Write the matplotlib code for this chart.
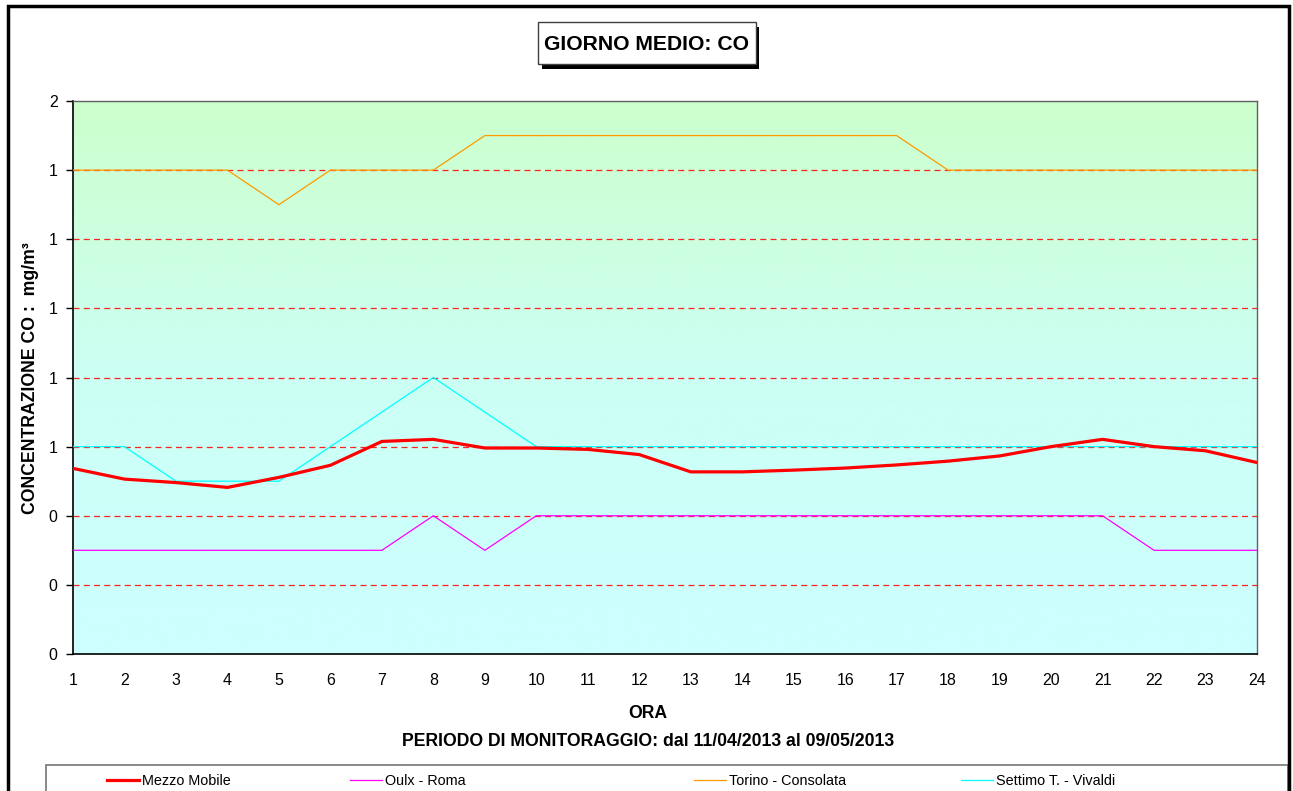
import numpy as np
import matplotlib
matplotlib.use("Agg")
import matplotlib.pyplot as plt
from matplotlib.patches import Rectangle
from matplotlib.colors import LinearSegmentedColormap
from matplotlib.ticker import FuncFormatter

plt.rcParams['font.family'] = ['Liberation Sans', 'DejaVu Sans']

# Data
ore = list(range(1, 25))
mezzo_mobile = [0.537, 0.506, 0.496, 0.482, 0.511, 0.546, 0.615, 0.621, 0.596, 0.596,
                0.592, 0.577, 0.527, 0.527, 0.532, 0.538, 0.547, 0.558, 0.573, 0.600,
                0.621, 0.600, 0.588, 0.554]
oulx_roma = [0.3, 0.3, 0.3, 0.3, 0.3, 0.3, 0.3, 0.4, 0.3, 0.4, 0.4, 0.4,
             0.4, 0.4, 0.4, 0.4, 0.4, 0.4, 0.4, 0.4, 0.4, 0.3, 0.3, 0.3]
torino_consolata = [1.4, 1.4, 1.4, 1.4, 1.3, 1.4, 1.4, 1.4, 1.5, 1.5, 1.5, 1.5,
                    1.5, 1.5, 1.5, 1.5, 1.5, 1.4, 1.4, 1.4, 1.4, 1.4, 1.4, 1.4]
settimo_vivaldi = [0.6, 0.6, 0.5, 0.5, 0.5, 0.6, 0.7, 0.8, 0.7, 0.6, 0.6, 0.6,
                   0.6, 0.6, 0.6, 0.6, 0.6, 0.6, 0.6, 0.6, 0.6, 0.6, 0.6, 0.6]
y_ticks = [0.0, 0.2, 0.4, 0.6, 0.8, 1.0, 1.2, 1.4, 1.6]

W, H = 1293, 791
fig = plt.figure(figsize=(W / 100, H / 100), dpi=100)


def fx(px):
    return px / W


def fy(py):
    return 1 - py / H


# axes placed in pixel terms
left, right, top, bottom = 73, 1257, 101, 654
ax = fig.add_axes([fx(left), fy(bottom), (right - left) / W, (bottom - top) / H])

# gradient background (green top -> cyan bottom)
cmap = LinearSegmentedColormap.from_list("bg", ["#ccffff", "#ccfff4", "#ccffcc"])
grad = np.linspace(0, 1, 256).reshape(-1, 1)
ax.imshow(grad, aspect='auto', cmap=cmap, origin='lower',
          extent=[0, 1, 0, 1], transform=ax.transAxes, zorder=0)

for v in y_ticks[1:-1]:
    ax.axhline(v, color='#ff2020', linestyle=(0, (4.8, 3.4)), linewidth=0.9, zorder=1)

l_oulx, = ax.plot(ore, oulx_roma, color='#ff00ff', linewidth=0.9, zorder=3)
l_tor, = ax.plot(ore, torino_consolata, color='#ff9900', linewidth=0.9, zorder=3)
l_set, = ax.plot(ore, settimo_vivaldi, color='#00ffff', linewidth=0.9, zorder=3)
l_mez, = ax.plot(ore, mezzo_mobile, color='#ff0000', linewidth=2.3, zorder=4)

ax.set_xlim(1, 24)
ax.set_ylim(0, 1.6)
ax.set_xticks(ore)
ax.set_yticks(y_ticks)
ax.yaxis.set_major_formatter(FuncFormatter(lambda v, p: f"{int(np.floor(v + 0.5 + 1e-9))}"))
ax.tick_params(axis='x', length=0, pad=14, labelsize=11.5)
ax.tick_params(axis='y', length=5, width=1, direction='out', labelsize=11.5, pad=6)

for s in ['left', 'bottom']:
    ax.spines[s].set_color('black')
    ax.spines[s].set_linewidth(1.2)
for s in ['top', 'right']:
    ax.spines[s].set_color('#606060')
    ax.spines[s].set_linewidth(1.0)

# axis labels
fig.text(fx(648), fy(714), "ORA", ha='center', va='center', fontsize=12.7, fontweight='bold')
fig.text(fx(648), fy(741), "PERIODO DI MONITORAGGIO: dal 11/04/2013 al 09/05/2013",
         ha='center', va='center', fontsize=12.7, fontweight='bold')
fig.text(fx(31), fy(378), "CONCENTRAZIONE CO :  mg/m³", ha='center', va='center',
         rotation=90, fontsize=12.7, fontweight='bold')

# title box with shadow
fig.patches.append(Rectangle((fx(542), fy(69)), (759 - 542) / W, (69 - 27) / H,
                             transform=fig.transFigure, facecolor='black', edgecolor='none', zorder=1))
fig.patches.append(Rectangle((fx(538), fy(64)), (756 - 538) / W, (64 - 22) / H,
                             transform=fig.transFigure, facecolor='white', edgecolor='#404040',
                             linewidth=1.0, zorder=2))
fig.text(fx(647), fy(44), "GIORNO MEDIO: CO", ha='center', va='center',
         fontsize=15.2, fontweight='bold', zorder=3)

# legend box
fig.patches.append(Rectangle((fx(46), -0.05), (1288 - 46) / W, fy(765) + 0.05,
                             transform=fig.transFigure, facecolor='white', edgecolor='#808080',
                             linewidth=1.3, zorder=2))

# legend entries, one per position
entries = [(l_mez, "Mezzo Mobile", 107), (l_oulx, "Oulx - Roma", 350),
           (l_tor, "Torino - Consolata", 694), (l_set, "Settimo T. - Vivaldi", 961)]
for handle, text, xpos in entries:
    lg = fig.legend([handle], [text], loc='center left', bbox_to_anchor=(fx(xpos), fy(781)),
                    frameon=False, fontsize=10.4, handlelength=2.2, handletextpad=0.2,
                    borderpad=0, borderaxespad=0)
    lg.set_zorder(3)

# outer frame
fig.patches.append(Rectangle((fx(8), -0.05), (1289 - 8) / W, fy(6) + 0.05,
                             transform=fig.transFigure, facecolor='none', edgecolor='black',
                             linewidth=2.5, zorder=5))

fig.savefig("out.png", dpi=100)
